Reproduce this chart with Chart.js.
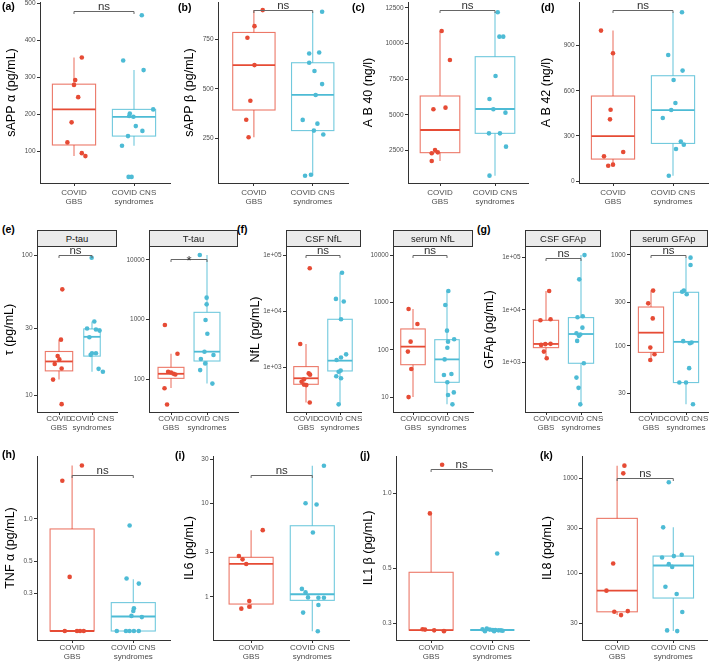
<!DOCTYPE html>
<html>
<head>
<meta charset="utf-8">
<script src="https://cdn.jsdelivr.net/npm/chart.js@4.4.1/dist/chart.umd.min.js"></script>
<style>
  body { margin: 0; background: #fff; font-family: 'Liberation Sans', Arial, sans-serif; }
  #fig { position: relative; width: 709px; height: 661px; overflow: hidden; }
  #fig canvas { position: absolute; }
  .tag { position: absolute; font-weight: bold; font-size: 10.5px; line-height: 12px; color: #000; }
  .strip { position: absolute; box-sizing: border-box; height: 17px; border: 1px solid #333; background: #ebebeb;
           font-size: 9.5px; line-height: 15px; text-align: center; color: #1a1a1a; z-index: 2; }
</style>
</head>
<body>
<div id="fig"></div>
<script>
const groups = [['COVID', 'GBS'], ['COVID CNS', 'syndromes']];
const colors = ['#E64B35', '#4DBBD5'];
const boxColors = ['rgba(230,75,53,0.75)', 'rgba(77,187,213,0.8)'];

// box stats are [lower whisker, q1, median, q3, upper whisker]

// (a) sAPP alpha
const aGbs = [354, 293, 280, 247, 179, 125, 96, 88];
const aGbsJit = [0.13, 0.02, 0, 0.07, -0.04, -0.11, 0.13, 0.19];
const aCns = [468, 346, 320, 214, 203, 196, 194, 169, 156, 142, 116, 32, 32];
const aCnsJit = [0.13, -0.18, 0.16, 0.32, -0.07, -0.08, -0.01, 0.03, 0.14, -0.1, -0.2, -0.09, -0.04];
const aBox = [[88, 118, 214, 282, 354], [116, 142, 194, 214, 320]];
const aTicks = [100, 200, 300, 400, 500];
const aTickLabels = ['100', '200', '300', '400', '500'];

// (b) sAPP beta
const bGbs = [898, 817, 758, 620, 440, 344, 255];
const bGbsJit = [0.15, 0.01, -0.11, 0.01, -0.06, -0.13, -0.09];
const bCns = [890, 679, 684, 632, 590, 524, 469, 343, 324, 289, 269, 61, 66];
const bCnsJit = [0.16, -0.06, 0.11, -0.06, 0.03, 0.16, 0.05, -0.17, 0.08, 0.02, 0.18, -0.13, -0.03];
const bBox = [[255, 393, 620, 785, 898], [61, 289, 469, 632, 890]];
const bTicks = [250, 500, 750];
const bTickLabels = ['250', '500', '750'];

// (c) A B 40
const cGbs = [10884, 8847, 5498, 5381, 2524, 2290, 2360, 1751];
const cGbsJit = [0.03, 0.18, 0.1, -0.12, -0.09, -0.15, -0.04, -0.15];
const cCns = [12196, 10486, 10486, 7722, 6107, 5381, 5147, 3694, 3694, 2757, 720];
const cCnsJit = [0.05, 0.08, 0.15, 0.01, -0.1, -0.03, 0.19, -0.11, 0.09, 0.2, -0.1];
const cBox = [[1751, 2336, 3929, 6317, 10884], [720, 3694, 5404, 9080, 12196]];
const cTicks = [2500, 5000, 7500, 10000, 12500];
const cTickLabels = ['2500', '5000', '7500', '10000', '12500'];

// (d) A B 42
const dGbs = [1000, 849, 474, 410, 193, 164, 109, 102];
const dGbsJit = [-0.2, 0, -0.04, -0.05, 0.17, -0.15, 0, -0.08];
const dCns = [1122, 838, 734, 672, 519, 472, 419, 262, 242, 213, 35];
const dCnsJit = [0.15, -0.08, 0.16, 0.01, 0.04, -0.03, -0.17, 0.13, 0.18, 0.05, -0.07];
const dBox = [[102, 146, 299, 565, 1000], [35, 250, 472, 700, 1122]];
const dTicks = [0, 300, 600, 900];
const dTickLabels = ['0', '300', '600', '900'];

// (e) P-tau
const epGbs = [57, 25, 19.1, 18.1, 16.8, 15.6, 13, 8.7];
const epGbsJit = [0.1, 0.06, -0.04, 0.01, -0.13, 0.08, -0.18, 0.08];
const epCns = [95.7, 33.7, 30, 29.5, 29, 26, 20, 20, 19.5, 15.5, 14.8];
const epCnsJit = [-0.01, 0.07, -0.15, 0.12, 0.23, -0.08, 0, 0.12, -0.04, 0.2, 0.33];
const epBox = [[13, 15, 17.5, 20.6, 25], [14.8, 19.1, 26.2, 29.8, 33.7]];
const epTicks = [10, 30, 100];
const epTickLabels = ['10', '30', '100'];

// (e) T-tau
const etGbs = [815, 269, 134, 130, 124, 121, 71, 38];
const etGbsJit = [-0.17, 0.18, -0.08, 0, 0.07, 0.12, -0.18, -0.11];
const etCns = [12100, 2340, 1806, 986, 582, 291, 256, 219, 185, 143, 85];
const etCnsJit = [-0.2, -0.01, -0.01, -0.04, 0.01, -0.07, 0.18, -0.17, -0.05, -0.19, 0.15];
const etBox = [[72, 104, 124, 159, 269], [85, 203, 291, 1327, 12100]];
const etTicks = [100, 1000, 10000];
const etTickLabels = ['100', '1000', '10000'];

// (f) CSF NfL
const fcGbs = [58000, 2630, 790, 750, 620, 560, 500, 490, 240];
const fcGbsJit = [0.11, -0.17, 0.08, 0.12, -0.06, -0.13, -0.06, 0.01, 0.11];
const fcCns = [48500, 16600, 14900, 7220, 1720, 1510, 1370, 885, 845, 702, 647, 223];
const fcCnsJit = [0.06, -0.12, 0.11, 0.03, 0.18, 0.03, -0.1, 0.02, -0.04, -0.11, 0.03, -0.04];
const fcBox = [[240, 506, 647, 1043, 2630], [223, 873, 1330, 7220, 48500]];
const fcTicks = [1000, 10000, 100000];
const fcTickLabels = ['1e+03', '1e+04', '1e+05'];

// (f) serum NfL
const fsGbs = [728, 351, 149, 92, 39.5, 10.1];
const fsGbsJit = [-0.13, 0.13, -0.07, -0.15, -0.05, -0.13];
const fsCns = [1742, 883, 254, 167, 149, 111, 63, 31, 29.5, 20.7, 12.7, 11.2, 7.1];
const fsCnsJit = [0.04, -0.05, 0, 0.21, 0.03, 0.01, -0.07, 0.13, -0.09, 0.01, 0.2, 0.03, 0.16];
const fsBox = [[10.1, 48.7, 117, 276, 728], [7.1, 20.7, 63, 164, 1742]];
const fsTicks = [10, 100, 1000, 10000];
const fsTickLabels = ['10', '100', '1000', '10000'];

// (g) CSF GFAp
const gcGbs = [23000, 6630, 6350, 2250, 2220, 2150, 1600, 1190];
const gcGbsJit = [0.09, 0.13, -0.16, 0.13, -0.02, -0.14, -0.06, 0.02];
const gcCns = [112000, 38500, 7570, 7240, 4590, 3580, 3400, 3200, 2560, 957, 509, 324, 157];
const gcCnsJit = [0.1, -0.05, 0.05, -0.1, 0.04, -0.13, -0.02, -0.06, -0.11, 0.08, -0.13, -0.07, -0.02];
const gcBox = [[1190, 1905, 2240, 6350, 23000], [157, 957, 3470, 7150, 112000]];
const gcTicks = [1000, 10000, 100000];
const gcTickLabels = ['1e+03', '1e+04', '1e+05'];

// (g) serum GFAp
const gsGbs = [406, 294, 201, 96, 81, 70];
const gsGbsJit = [0.06, -0.08, 0.05, -0.02, 0.1, -0.02];
const gsCns = [935, 776, 406, 395, 370, 113, 109, 107, 57, 39.6, 39.6, 22.9];
const gsCnsJit = [0.13, 0.13, -0.06, -0.11, 0.02, -0.08, 0.16, 0.11, 0.09, -0.19, 0, 0.2];
const gsBox = [[70, 85, 140, 268, 406], [22.9, 39.6, 111, 389, 935]];
const gsTicks = [30, 100, 300, 1000];
const gsTickLabels = ['30', '100', '300', '1000'];

// (h) TNF alpha
const hGbs = [2.38, 1.86, 0.39, 0.162, 0.162, 0.162, 0.162];
const hGbsJit = [0.16, -0.16, -0.04, -0.12, 0.08, 0.13, 0.19];
const hCns = [0.90, 0.38, 0.35, 0.234, 0.224, 0.207, 0.203, 0.162, 0.162, 0.162, 0.162, 0.162];
const hCnsJit = [-0.06, -0.11, 0.09, 0.01, 0, -0.03, 0.14, -0.27, -0.12, -0.06, 0.01, 0.09];
const hBox = [[0.162, 0.162, 0.162, 0.85, 2.38], [0.162, 0.162, 0.205, 0.257, 0.375]];
const hTicks = [0.3, 0.5, 1.0];
const hTickLabels = ['0.3', '0.5', '1.0'];

// (i) IL6
const iGbs = [5.2, 2.75, 2.53, 2.26, 0.906, 0.787, 0.75];
const iGbsJit = [0.19, -0.2, -0.14, -0.08, -0.03, -0.03, -0.16];
const iCns = [25.5, 10.1, 9.8, 4.9, 1.22, 1.12, 0.99, 0.98, 0.98, 0.82, 0.68, 0.43];
const iCnsJit = [0.19, -0.11, 0.07, 0.01, -0.17, -0.11, -0.07, 0.1, 0.19, 0.1, -0.15, 0.09];
const iBox = [[0.75, 0.84, 2.26, 2.66, 5.2], [0.43, 0.92, 1.07, 5.8, 25.5]];
const iTicks = [1, 3, 10, 30];
const iTickLabels = ['1', '3', '10', '30'];

// (j) IL1 beta
const jGbs = [1.3, 0.83, 0.285, 0.284, 0.282, 0.28];
const jGbsJit = [0.18, -0.02, -0.14, -0.1, 0.05, 0.21];
const jCns = [0.573, 0.287, 0.285, 0.284, 0.283, 0.283, 0.282, 0.282, 0.281, 0.28, 0.28];
const jCnsJit = [0.08, -0.09, -0.16, -0.04, 0.01, 0.05, 0.1, 0.14, 0.17, -0.12, 0.03];
const jBox = [[0.2825, 0.2825, 0.2825, 0.482, 0.83], [0.283, 0.283, 0.283, 0.283, 0.283]];
const jTicks = [0.3, 0.5, 1.0];
const jTickLabels = ['0.3', '0.5', '1.0'];

// (k) IL8
const kGbs = [1360, 1129, 127, 65.8, 40.1, 39.4, 36.4];
const kGbsJit = [0.13, 0.11, -0.07, -0.19, 0.19, -0.05, 0.07];
const kCns = [908, 305, 157, 152, 147, 125, 117, 72.4, 60.6, 39.2, 25.1, 24.7];
const kCnsJit = [-0.08, -0.18, 0.15, 0.01, -0.2, -0.08, -0.02, -0.14, 0.06, 0.16, -0.11, 0.07];
const kBox = [[36.4, 39.4, 65.8, 379, 1360], [24.7, 55, 121, 152, 305]];
const kTicks = [30, 100, 300, 1000];
const kTickLabels = ['30', '100', '300', '1000'];

const FONT = 'Liberation Sans';
const fig = document.getElementById('fig');

// layout of each panel on the page (pixels) + its scale settings
const panels = [
  { gbs: aGbs, gj: aGbsJit, cns: aCns, cj: aCnsJit, box: aBox, ticks: aTicks, labels: aTickLabels, sig: 480, star: 'ns',
    title: 'sAPP α (pg/mL)', log: false, yMin: 15.5, yMax: 503.6, axisX: 40, c0: 74, c1: 134, top: 2, bottom: 183, titleX: 11.3, xPad: 3 },
  { gbs: bGbs, gj: bGbsJit, cns: bCns, cj: bCnsJit, box: bBox, ticks: bTicks, labels: bTickLabels, sig: 898, star: 'ns',
    title: 'sAPP β (pg/mL)', log: false, yMin: 24, yMax: 939, axisX: 218, c0: 254, c1: 313, top: 2, bottom: 183, titleX: 189, xPad: 3 },
  { gbs: cGbs, gj: cGbsJit, cns: cCns, cj: cCnsJit, box: cBox, ticks: cTicks, labels: cTickLabels, sig: 12360, star: 'ns',
    title: 'A B 40 (ng/l)', log: false, yMin: 205, yMax: 12921, axisX: 408, c0: 440, c1: 495, top: 2, bottom: 183, titleX: 368, xPad: 3 },
  { gbs: dGbs, gj: dGbsJit, cns: dCns, cj: dCnsJit, box: dBox, ticks: dTicks, labels: dTickLabels, sig: 1138, star: 'ns',
    title: 'A B 42 (ng/l)', log: false, yMin: -13, yMax: 1190, axisX: 579, c0: 613, c1: 673, top: 2, bottom: 183, titleX: 546, xPad: 3 },

  { gbs: epGbs, gj: epGbsJit, cns: epCns, cj: epCnsJit, box: epBox, ticks: epTicks, labels: epTickLabels, sig: 100, star: 'ns', widths: [0.83, 0.5],
    title: 'τ (pg/mL)', log: true, yMin: 7.65, yMax: 114, axisX: 37, c0: 59, c1: 92, right: 117, top: 247, bottom: 412, titleX: 9.3, xPad: 0, strip: 'P-tau' },
  { gbs: etGbs, gj: etGbsJit, cns: etCns, cj: etCnsJit, box: etBox, ticks: etTicks, labels: etTickLabels, sig: 10400, star: '*',
    log: true, yMin: 28.4, yMax: 16500, axisX: 149, c0: 171, c1: 207, right: 238, top: 247, bottom: 412, xPad: 0, strip: 'T-tau' },
  { gbs: fcGbs, gj: fcGbsJit, cns: fcCns, cj: fcCnsJit, box: fcBox, ticks: fcTicks, labels: fcTickLabels, sig: 100000, star: 'ns',
    title: 'NfL (pg/mL)', log: true, yMin: 163, yMax: 138700, axisX: 286, c0: 306, c1: 340, right: 361, top: 247, bottom: 412, titleX: 255, xPad: 0, strip: 'CSF NfL' },
  { gbs: fsGbs, gj: fsGbsJit, cns: fsCns, cj: fsCnsJit, box: fsBox, ticks: fsTicks, labels: fsTickLabels, sig: 10000, star: 'ns',
    log: true, yMin: 4.9, yMax: 14750, axisX: 393, c0: 413, c1: 447, right: 473, top: 247, bottom: 412, xPad: 0, strip: 'serum NfL' },
  { gbs: gcGbs, gj: gcGbsJit, cns: gcCns, cj: gcCnsJit, box: gcBox, ticks: gcTicks, labels: gcTickLabels, sig: 100000, star: 'ns',
    title: 'GFAp (pg/mL)', log: true, yMin: 112, yMax: 160000, axisX: 525, c0: 546, c1: 581, right: 601, top: 247, bottom: 412, titleX: 489, xPad: 0, strip: 'CSF GFAp' },
  { gbs: gsGbs, gj: gsGbsJit, cns: gsCns, cj: gsCnsJit, box: gsBox, ticks: gsTicks, labels: gsTickLabels, sig: 1000, star: 'ns',
    log: true, yMin: 18.8, yMax: 1224, axisX: 630, c0: 651, c1: 686, right: 708, top: 247, bottom: 412, xPad: 0, strip: 'serum GFAp' },

  { gbs: hGbs, gj: hGbsJit, cns: hCns, cj: hCnsJit, box: hBox, ticks: hTicks, labels: hTickLabels, sig: 2.05, star: 'ns',
    title: 'TNF α (pg/mL)', log: true, yMin: 0.14, yMax: 2.78, axisX: 37, c0: 72, c1: 133, top: 456, bottom: 640, titleX: 10, xPad: 1 },
  { gbs: iGbs, gj: iGbsJit, cns: iCns, cj: iCnsJit, box: iBox, ticks: iTicks, labels: iTickLabels, sig: 20.3, star: 'ns',
    title: 'IL6 (pg/mL)', log: true, yMin: 0.346, yMax: 32.4, axisX: 213, c0: 251, c1: 312, top: 456, bottom: 640, titleX: 189, xPad: 1 },
  { gbs: jGbs, gj: jGbsJit, cns: jCns, cj: jCnsJit, box: jBox, ticks: jTicks, labels: jTickLabels, sig: 1.25, star: 'ns',
    title: 'IL1 β (pg/mL)', log: true, yMin: 0.258, yMax: 1.41, axisX: 396, c0: 431, c1: 492, top: 456, bottom: 640, titleX: 368, xPad: 1 },
  { gbs: kGbs, gj: kGbsJit, cns: kCns, cj: kCnsJit, box: kBox, ticks: kTicks, labels: kTickLabels, sig: 1000, star: 'ns',
    title: 'IL8 (pg/mL)', log: true, yMin: 19.9, yMax: 1718, axisX: 582, c0: 617, c1: 673, top: 456, bottom: 640, titleX: 547, xPad: 1 }
];

const tags = [['(a)', 2, 0], ['(b)', 178, 1], ['(c)', 352, 1], ['(d)', 541, 1],
              ['(e)', 2, 223], ['(f)', 237, 223], ['(g)', 477, 223],
              ['(h)', 2, 448], ['(i)', 175, 449], ['(j)', 360, 449], ['(k)', 540, 449]];

const TITLE_SIZE = 12.5;

function boxPlugin(p) {
  return {
    id: 'boxes',
    beforeDatasetsDraw(chart) {
      const { ctx, scales: { x, y } } = chart;
      const widths = p.widths || [0.72, 0.72];
      p.box.forEach((s, g) => {
        const half = widths[g] / 2;
        const xl = x.getPixelForValue(g - half), xr = x.getPixelForValue(g + half), xc = x.getPixelForValue(g);
        const [lo, q1, med, q3, hi] = s.map(v => y.getPixelForValue(v));
        ctx.save();
        ctx.strokeStyle = boxColors[g];
        ctx.lineWidth = 1.1;
        ctx.beginPath();
        ctx.moveTo(xc, q3); ctx.lineTo(xc, hi);
        ctx.moveTo(xc, q1); ctx.lineTo(xc, lo);
        ctx.stroke();
        ctx.strokeRect(xl, q3, xr - xl, q1 - q3);
        ctx.strokeStyle = colors[g];
        ctx.lineWidth = 1.8;
        ctx.beginPath();
        ctx.moveTo(xl, med); ctx.lineTo(xr, med);
        ctx.stroke();
        ctx.restore();
      });
    },
    afterDatasetsDraw(chart) {
      const { ctx, scales: { x, y } } = chart;
      const yb = Math.round(y.getPixelForValue(p.sig)) + 0.5;
      const x0 = x.getPixelForValue(0), x1 = x.getPixelForValue(1);
      ctx.save();
      ctx.strokeStyle = '#666';
      ctx.lineWidth = 1;
      ctx.beginPath();
      ctx.moveTo(x0, yb + 2.5); ctx.lineTo(x0, yb); ctx.lineTo(x1, yb); ctx.lineTo(x1, yb + 2.5);
      ctx.stroke();
      ctx.fillStyle = '#333';
      ctx.textAlign = 'center';
      ctx.textBaseline = 'alphabetic';
      if (p.star === '*') {
        ctx.font = '13px "' + FONT + '"';
        ctx.fillText(p.star, (x0 + x1) / 2, yb + 5.5);
      } else {
        ctx.font = '11.5px "' + FONT + '"';
        ctx.fillText(p.star, (x0 + x1) / 2, yb - 1.5);
      }
      ctx.restore();
    }
  };
}

function build(p) {
  const unit = p.c1 - p.c0;
  const xMin = -(p.c0 - p.axisX) / unit;
  const right = p.right || (p.c1 + 0.6 * unit);
  const xMax = 1 + (right - p.c1) / unit;
  const left = Math.round(p.title ? p.titleX - TITLE_SIZE * 0.6 : p.axisX - 30);
  const yw = p.axisX - left;
  const padTop = 10, padRight = 6, xh = 32;

  const cv = document.createElement('canvas');
  cv.width = Math.round(right - left + padRight);
  cv.height = padTop + (p.bottom - p.top) + xh;
  cv.style.left = left + 'px';
  cv.style.top = (p.top - padTop) + 'px';
  fig.appendChild(cv);

  new Chart(cv.getContext('2d'), {
    type: 'scatter',
    data: {
      datasets: [0, 1].map(g => ({
        data: (g ? p.cns : p.gbs).map((v, k) => ({ x: g + (g ? p.cj : p.gj)[k], y: v })),
        backgroundColor: colors[g],
        borderWidth: 0,
        pointRadius: 2.3,
        pointHoverRadius: 2.3
      }))
    },
    options: {
      responsive: false,
      animation: false,
      devicePixelRatio: 1,
      events: [],
      layout: { padding: { top: padTop, right: padRight, left: 0, bottom: 0 } },
      plugins: { legend: { display: false }, tooltip: { enabled: false } },
      scales: {
        x: {
          type: 'linear',
          bounds: 'data',
          min: xMin,
          max: xMax,
          afterBuildTicks: s => { s.ticks = [{ value: 0 }, { value: 1 }]; },
          afterFit: s => { s.height = xh; },
          ticks: {
            autoSkip: false, maxRotation: 0, minRotation: 0, padding: p.xPad,
            color: '#4d4d4d', font: { family: FONT, size: 8, lineHeight: 1.05 },
            callback: (v, i) => groups[i]
          },
          grid: { drawOnChartArea: false, tickLength: 3, color: '#333' },
          border: { color: '#333', width: 1 }
        },
        y: {
          type: p.log ? 'logarithmic' : 'linear',
          bounds: 'data',
          min: p.yMin,
          max: p.yMax,
          afterBuildTicks: s => { s.ticks = p.ticks.map(v => ({ value: v })); },
          afterFit: s => { s.width = yw; },
          ticks: {
            padding: 1.5, color: '#4d4d4d', font: { family: FONT, size: 6.5 },
            callback: (v, i) => p.labels[i]
          },
          grid: { drawOnChartArea: false, tickLength: 3, color: '#333' },
          border: { color: '#333', width: 1 },
          title: { display: !!p.title, text: p.title || '', padding: 0, color: '#000', font: { family: FONT, size: TITLE_SIZE } }
        }
      }
    },
    plugins: [boxPlugin(p)]
  });

  if (p.strip) {
    const st = document.createElement('div');
    st.className = 'strip';
    st.style.left = p.axisX + 'px';
    st.style.top = '230px';
    st.style.width = (right - p.axisX) + 'px';
    st.textContent = p.strip;
    fig.appendChild(st);
  }
}

panels.forEach(build);

tags.forEach(([t, x, y]) => {
  const d = document.createElement('div');
  d.className = 'tag';
  d.style.left = x + 'px';
  d.style.top = y + 'px';
  d.textContent = t;
  fig.appendChild(d);
});
</script>
</body>
</html>
